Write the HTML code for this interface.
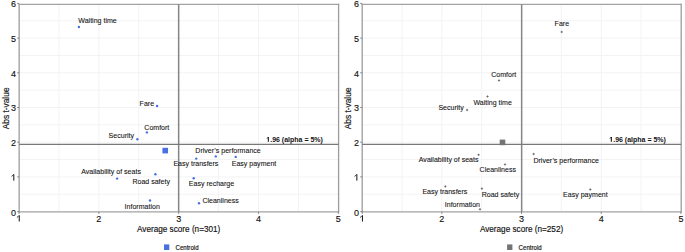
<!DOCTYPE html>
<html><head><meta charset="utf-8"><style>
html,body{margin:0;padding:0;background:#fff;}
body{width:685px;height:252px;overflow:hidden;font-family:"Liberation Sans",sans-serif;}
svg{display:block;}
</style></head><body>
<svg width="685" height="252" viewBox="0 0 685 252" font-family="Liberation Sans, sans-serif">
<rect width="685" height="252" fill="#fff"/>
<line x1="58.91" y1="4.40" x2="58.91" y2="211.90" stroke="#f3f3f3" stroke-width="1"/>
<line x1="98.83" y1="4.40" x2="98.83" y2="211.90" stroke="#f3f3f3" stroke-width="1"/>
<line x1="138.75" y1="4.40" x2="138.75" y2="211.90" stroke="#f3f3f3" stroke-width="1"/>
<line x1="178.66" y1="4.40" x2="178.66" y2="211.90" stroke="#f3f3f3" stroke-width="1"/>
<line x1="218.57" y1="4.40" x2="218.57" y2="211.90" stroke="#f3f3f3" stroke-width="1"/>
<line x1="258.49" y1="4.40" x2="258.49" y2="211.90" stroke="#f3f3f3" stroke-width="1"/>
<line x1="298.40" y1="4.40" x2="298.40" y2="211.90" stroke="#f3f3f3" stroke-width="1"/>
<line x1="19.15" y1="194.25" x2="338.60" y2="194.25" stroke="#f3f3f3" stroke-width="1"/>
<line x1="19.15" y1="176.90" x2="338.60" y2="176.90" stroke="#f3f3f3" stroke-width="1"/>
<line x1="19.15" y1="159.55" x2="338.60" y2="159.55" stroke="#f3f3f3" stroke-width="1"/>
<line x1="19.15" y1="142.20" x2="338.60" y2="142.20" stroke="#f3f3f3" stroke-width="1"/>
<line x1="19.15" y1="124.85" x2="338.60" y2="124.85" stroke="#f3f3f3" stroke-width="1"/>
<line x1="19.15" y1="107.50" x2="338.60" y2="107.50" stroke="#f3f3f3" stroke-width="1"/>
<line x1="19.15" y1="90.15" x2="338.60" y2="90.15" stroke="#f3f3f3" stroke-width="1"/>
<line x1="19.15" y1="72.80" x2="338.60" y2="72.80" stroke="#f3f3f3" stroke-width="1"/>
<line x1="19.15" y1="55.45" x2="338.60" y2="55.45" stroke="#f3f3f3" stroke-width="1"/>
<line x1="19.15" y1="38.10" x2="338.60" y2="38.10" stroke="#f3f3f3" stroke-width="1"/>
<line x1="19.15" y1="20.75" x2="338.60" y2="20.75" stroke="#f3f3f3" stroke-width="1"/>
<line x1="18.55" y1="4.40" x2="339.20" y2="4.40" stroke="#a2a2a2" stroke-width="1.4"/>
<line x1="18.55" y1="211.90" x2="339.20" y2="211.90" stroke="#a2a2a2" stroke-width="1.4"/>
<line x1="19.15" y1="3.80" x2="19.15" y2="212.50" stroke="#9c9c9c" stroke-width="1.3"/>
<line x1="338.60" y1="3.80" x2="338.60" y2="212.50" stroke="#9c9c9c" stroke-width="1.3"/>
<line x1="17.15" y1="211.60" x2="19.15" y2="211.60" stroke="#888" stroke-width="1"/>
<text transform="translate(15.95,215.50) scale(1,1.06)" font-size="9.0" text-anchor="end" fill="#111" stroke="#111" stroke-width="0.12">0</text>
<line x1="17.15" y1="176.90" x2="19.15" y2="176.90" stroke="#888" stroke-width="1"/>
<path d="M13.80 174.35V180.65" stroke="#111" stroke-width="1.0" fill="none"/><path d="M11.50 176.35Q12.80 175.65 13.60 174.45" stroke="#111" stroke-width="0.85" fill="none"/>
<line x1="17.15" y1="142.20" x2="19.15" y2="142.20" stroke="#888" stroke-width="1"/>
<text transform="translate(15.95,146.10) scale(1,1.06)" font-size="9.0" text-anchor="end" fill="#111" stroke="#111" stroke-width="0.12">2</text>
<line x1="17.15" y1="107.50" x2="19.15" y2="107.50" stroke="#888" stroke-width="1"/>
<text transform="translate(15.95,111.40) scale(1,1.06)" font-size="9.0" text-anchor="end" fill="#111" stroke="#111" stroke-width="0.12">3</text>
<line x1="17.15" y1="72.80" x2="19.15" y2="72.80" stroke="#888" stroke-width="1"/>
<text transform="translate(15.95,76.70) scale(1,1.06)" font-size="9.0" text-anchor="end" fill="#111" stroke="#111" stroke-width="0.12">4</text>
<line x1="17.15" y1="38.10" x2="19.15" y2="38.10" stroke="#888" stroke-width="1"/>
<text transform="translate(15.95,42.00) scale(1,1.06)" font-size="9.0" text-anchor="end" fill="#111" stroke="#111" stroke-width="0.12">5</text>
<line x1="17.15" y1="3.40" x2="19.15" y2="3.40" stroke="#888" stroke-width="1"/>
<text transform="translate(15.95,7.30) scale(1,1.06)" font-size="9.0" text-anchor="end" fill="#111" stroke="#111" stroke-width="0.12">6</text>
<line x1="19.00" y1="211.90" x2="19.00" y2="213.90" stroke="#888" stroke-width="1"/>
<path d="M19.25 215.40V221.50" stroke="#111" stroke-width="1.0" fill="none"/><path d="M16.95 217.40Q18.25 216.70 19.05 215.50" stroke="#111" stroke-width="0.85" fill="none"/>
<line x1="98.83" y1="211.90" x2="98.83" y2="213.90" stroke="#888" stroke-width="1"/>
<text transform="translate(98.83,222.00) scale(1,1.06)" font-size="9.0" text-anchor="middle" fill="#111" stroke="#111" stroke-width="0.12">2</text>
<line x1="178.66" y1="211.90" x2="178.66" y2="213.90" stroke="#888" stroke-width="1"/>
<text transform="translate(178.66,222.00) scale(1,1.06)" font-size="9.0" text-anchor="middle" fill="#111" stroke="#111" stroke-width="0.12">3</text>
<line x1="258.49" y1="211.90" x2="258.49" y2="213.90" stroke="#888" stroke-width="1"/>
<text transform="translate(258.49,222.00) scale(1,1.06)" font-size="9.0" text-anchor="middle" fill="#111" stroke="#111" stroke-width="0.12">4</text>
<line x1="338.32" y1="211.90" x2="338.32" y2="213.90" stroke="#888" stroke-width="1"/>
<text transform="translate(338.32,222.00) scale(1,1.06)" font-size="9.0" text-anchor="middle" fill="#111" stroke="#111" stroke-width="0.12">5</text>
<line x1="178.65" y1="4.40" x2="178.65" y2="211.90" stroke="#858585" stroke-width="1.5"/>
<line x1="19.15" y1="144.30" x2="338.60" y2="144.30" stroke="#787878" stroke-width="1.25"/>
<circle cx="78.90" cy="27.00" r="1.2" fill="#4870e4"/>
<circle cx="157.10" cy="106.00" r="1.2" fill="#4870e4"/>
<circle cx="146.90" cy="132.40" r="1.2" fill="#4870e4"/>
<circle cx="137.40" cy="139.30" r="1.2" fill="#4870e4"/>
<circle cx="196.20" cy="158.60" r="1.2" fill="#4870e4"/>
<circle cx="215.80" cy="156.40" r="1.2" fill="#4870e4"/>
<circle cx="235.70" cy="156.90" r="1.2" fill="#4870e4"/>
<circle cx="193.70" cy="178.30" r="1.2" fill="#4870e4"/>
<circle cx="117.10" cy="178.60" r="1.2" fill="#4870e4"/>
<circle cx="155.40" cy="174.20" r="1.2" fill="#4870e4"/>
<circle cx="150.00" cy="200.50" r="1.2" fill="#4870e4"/>
<circle cx="199.00" cy="203.30" r="1.2" fill="#4870e4"/>
<rect x="162.45" y="147.80" width="5.6" height="5.6" fill="#4a70e0"/>
<text transform="translate(78.30,22.90) scale(1,1.12)" font-size="7.05" fill="#111" stroke="#111" stroke-width="0.08">Waiting time</text>
<text transform="translate(139.60,106.00) scale(1,1.12)" font-size="7.05" fill="#111" stroke="#111" stroke-width="0.08">Fare</text>
<text transform="translate(144.30,130.00) scale(1,1.12)" font-size="7.05" fill="#111" stroke="#111" stroke-width="0.08">Comfort</text>
<text transform="translate(108.60,137.90) scale(1,1.12)" font-size="7.05" fill="#111" stroke="#111" stroke-width="0.08">Security</text>
<text transform="translate(195.30,153.10) scale(1,1.12)" font-size="7.05" fill="#111" stroke="#111" stroke-width="0.08">Driver&#8217;s performance</text>
<text transform="translate(173.40,166.00) scale(1,1.12)" font-size="7.05" fill="#111" stroke="#111" stroke-width="0.08">Easy transfers</text>
<text transform="translate(231.70,166.00) scale(1,1.12)" font-size="7.05" fill="#111" stroke="#111" stroke-width="0.08">Easy payment</text>
<text transform="translate(188.80,185.90) scale(1,1.12)" font-size="7.05" fill="#111" stroke="#111" stroke-width="0.08">Easy recharge</text>
<text transform="translate(81.20,173.60) scale(1,1.12)" font-size="7.05" fill="#111" stroke="#111" stroke-width="0.08">Availability of seats</text>
<text transform="translate(132.40,183.70) scale(1,1.12)" font-size="7.05" fill="#111" stroke="#111" stroke-width="0.08">Road safety</text>
<text transform="translate(124.60,209.40) scale(1,1.12)" font-size="7.05" fill="#111" stroke="#111" stroke-width="0.08">Information</text>
<text transform="translate(202.40,203.30) scale(1,1.12)" font-size="7.05" fill="#111" stroke="#111" stroke-width="0.08">Cleanliness</text>
<path d="M268.35 136.95V141.70" stroke="#1a1a1a" stroke-width="1.1" fill="none"/>
<path d="M267.00 138.60Q267.70 138.10 268.20 137.00" stroke="#1a1a1a" stroke-width="0.9" fill="none"/>
<text transform="translate(270.20,141.70) scale(1,1.12)" font-size="7.0" font-weight="bold" fill="#111">.96 (alpha = 5%)</text>
<text transform="translate(178.66,232.00) scale(1,1.12)" font-size="8.2" text-anchor="middle" fill="#111" stroke="#111" stroke-width="0.15">Average score (n=301)</text>
<text transform="translate(8.60,108.40) rotate(-90) scale(1,1.0)" font-size="8.4" text-anchor="middle" fill="#111" stroke="#111" stroke-width="0.15">Abs t-value</text>
<rect x="164.00" y="244.4" width="5.3" height="5.6" fill="#4a70e0"/>
<text transform="translate(175.50,250.30) scale(1,1.12)" font-size="6.1" fill="#111" stroke="#111" stroke-width="0.15">Centroid</text>
<line x1="402.03" y1="4.40" x2="402.03" y2="211.90" stroke="#f3f3f3" stroke-width="1"/>
<line x1="441.87" y1="4.40" x2="441.87" y2="211.90" stroke="#f3f3f3" stroke-width="1"/>
<line x1="481.70" y1="4.40" x2="481.70" y2="211.90" stroke="#f3f3f3" stroke-width="1"/>
<line x1="521.54" y1="4.40" x2="521.54" y2="211.90" stroke="#f3f3f3" stroke-width="1"/>
<line x1="561.38" y1="4.40" x2="561.38" y2="211.90" stroke="#f3f3f3" stroke-width="1"/>
<line x1="601.21" y1="4.40" x2="601.21" y2="211.90" stroke="#f3f3f3" stroke-width="1"/>
<line x1="641.05" y1="4.40" x2="641.05" y2="211.90" stroke="#f3f3f3" stroke-width="1"/>
<line x1="362.20" y1="194.25" x2="681.20" y2="194.25" stroke="#f3f3f3" stroke-width="1"/>
<line x1="362.20" y1="176.90" x2="681.20" y2="176.90" stroke="#f3f3f3" stroke-width="1"/>
<line x1="362.20" y1="159.55" x2="681.20" y2="159.55" stroke="#f3f3f3" stroke-width="1"/>
<line x1="362.20" y1="142.20" x2="681.20" y2="142.20" stroke="#f3f3f3" stroke-width="1"/>
<line x1="362.20" y1="124.85" x2="681.20" y2="124.85" stroke="#f3f3f3" stroke-width="1"/>
<line x1="362.20" y1="107.50" x2="681.20" y2="107.50" stroke="#f3f3f3" stroke-width="1"/>
<line x1="362.20" y1="90.15" x2="681.20" y2="90.15" stroke="#f3f3f3" stroke-width="1"/>
<line x1="362.20" y1="72.80" x2="681.20" y2="72.80" stroke="#f3f3f3" stroke-width="1"/>
<line x1="362.20" y1="55.45" x2="681.20" y2="55.45" stroke="#f3f3f3" stroke-width="1"/>
<line x1="362.20" y1="38.10" x2="681.20" y2="38.10" stroke="#f3f3f3" stroke-width="1"/>
<line x1="362.20" y1="20.75" x2="681.20" y2="20.75" stroke="#f3f3f3" stroke-width="1"/>
<line x1="361.60" y1="4.40" x2="681.80" y2="4.40" stroke="#a2a2a2" stroke-width="1.4"/>
<line x1="361.60" y1="211.90" x2="681.80" y2="211.90" stroke="#a2a2a2" stroke-width="1.4"/>
<line x1="362.20" y1="3.80" x2="362.20" y2="212.50" stroke="#9c9c9c" stroke-width="1.3"/>
<line x1="681.20" y1="3.80" x2="681.20" y2="212.50" stroke="#9c9c9c" stroke-width="1.3"/>
<line x1="360.20" y1="211.60" x2="362.20" y2="211.60" stroke="#888" stroke-width="1"/>
<text transform="translate(359.00,215.50) scale(1,1.06)" font-size="9.0" text-anchor="end" fill="#111" stroke="#111" stroke-width="0.12">0</text>
<line x1="360.20" y1="176.90" x2="362.20" y2="176.90" stroke="#888" stroke-width="1"/>
<path d="M356.85 174.35V180.65" stroke="#111" stroke-width="1.0" fill="none"/><path d="M354.55 176.35Q355.85 175.65 356.65 174.45" stroke="#111" stroke-width="0.85" fill="none"/>
<line x1="360.20" y1="142.20" x2="362.20" y2="142.20" stroke="#888" stroke-width="1"/>
<text transform="translate(359.00,146.10) scale(1,1.06)" font-size="9.0" text-anchor="end" fill="#111" stroke="#111" stroke-width="0.12">2</text>
<line x1="360.20" y1="107.50" x2="362.20" y2="107.50" stroke="#888" stroke-width="1"/>
<text transform="translate(359.00,111.40) scale(1,1.06)" font-size="9.0" text-anchor="end" fill="#111" stroke="#111" stroke-width="0.12">3</text>
<line x1="360.20" y1="72.80" x2="362.20" y2="72.80" stroke="#888" stroke-width="1"/>
<text transform="translate(359.00,76.70) scale(1,1.06)" font-size="9.0" text-anchor="end" fill="#111" stroke="#111" stroke-width="0.12">4</text>
<line x1="360.20" y1="38.10" x2="362.20" y2="38.10" stroke="#888" stroke-width="1"/>
<text transform="translate(359.00,42.00) scale(1,1.06)" font-size="9.0" text-anchor="end" fill="#111" stroke="#111" stroke-width="0.12">5</text>
<line x1="360.20" y1="3.40" x2="362.20" y2="3.40" stroke="#888" stroke-width="1"/>
<text transform="translate(359.00,7.30) scale(1,1.06)" font-size="9.0" text-anchor="end" fill="#111" stroke="#111" stroke-width="0.12">6</text>
<line x1="362.20" y1="211.90" x2="362.20" y2="213.90" stroke="#888" stroke-width="1"/>
<path d="M362.45 215.40V221.50" stroke="#111" stroke-width="1.0" fill="none"/><path d="M360.15 217.40Q361.45 216.70 362.25 215.50" stroke="#111" stroke-width="0.85" fill="none"/>
<line x1="441.87" y1="211.90" x2="441.87" y2="213.90" stroke="#888" stroke-width="1"/>
<text transform="translate(441.87,222.00) scale(1,1.06)" font-size="9.0" text-anchor="middle" fill="#111" stroke="#111" stroke-width="0.12">2</text>
<line x1="521.54" y1="211.90" x2="521.54" y2="213.90" stroke="#888" stroke-width="1"/>
<text transform="translate(521.54,222.00) scale(1,1.06)" font-size="9.0" text-anchor="middle" fill="#111" stroke="#111" stroke-width="0.12">3</text>
<line x1="601.21" y1="211.90" x2="601.21" y2="213.90" stroke="#888" stroke-width="1"/>
<text transform="translate(601.21,222.00) scale(1,1.06)" font-size="9.0" text-anchor="middle" fill="#111" stroke="#111" stroke-width="0.12">4</text>
<line x1="680.88" y1="211.90" x2="680.88" y2="213.90" stroke="#888" stroke-width="1"/>
<text transform="translate(680.88,222.00) scale(1,1.06)" font-size="9.0" text-anchor="middle" fill="#111" stroke="#111" stroke-width="0.12">5</text>
<line x1="521.65" y1="4.40" x2="521.65" y2="211.90" stroke="#858585" stroke-width="1.5"/>
<line x1="362.20" y1="144.30" x2="681.20" y2="144.30" stroke="#787878" stroke-width="1.25"/>
<path d="M560.50 31.90H562.90M561.70 30.70V33.10" stroke="#8a8a8a" stroke-width="0.8" fill="none"/>
<circle cx="561.70" cy="31.90" r="0.75" fill="#666"/>
<path d="M497.80 80.50H500.20M499.00 79.30V81.70" stroke="#8a8a8a" stroke-width="0.8" fill="none"/>
<circle cx="499.00" cy="80.50" r="0.75" fill="#666"/>
<path d="M486.30 96.50H488.70M487.50 95.30V97.70" stroke="#8a8a8a" stroke-width="0.8" fill="none"/>
<circle cx="487.50" cy="96.50" r="0.75" fill="#666"/>
<path d="M465.90 110.00H468.30M467.10 108.80V111.20" stroke="#8a8a8a" stroke-width="0.8" fill="none"/>
<circle cx="467.10" cy="110.00" r="0.75" fill="#666"/>
<path d="M532.40 154.00H534.80M533.60 152.80V155.20" stroke="#8a8a8a" stroke-width="0.8" fill="none"/>
<circle cx="533.60" cy="154.00" r="0.75" fill="#666"/>
<path d="M503.80 164.50H506.20M505.00 163.30V165.70" stroke="#8a8a8a" stroke-width="0.8" fill="none"/>
<circle cx="505.00" cy="164.50" r="0.75" fill="#666"/>
<path d="M477.40 154.80H479.80M478.60 153.60V156.00" stroke="#8a8a8a" stroke-width="0.8" fill="none"/>
<circle cx="478.60" cy="154.80" r="0.75" fill="#666"/>
<path d="M444.20 186.40H446.60M445.40 185.20V187.60" stroke="#8a8a8a" stroke-width="0.8" fill="none"/>
<circle cx="445.40" cy="186.40" r="0.75" fill="#666"/>
<path d="M480.70 188.60H483.10M481.90 187.40V189.80" stroke="#8a8a8a" stroke-width="0.8" fill="none"/>
<circle cx="481.90" cy="188.60" r="0.75" fill="#666"/>
<path d="M478.80 209.30H481.20M480.00 208.10V210.50" stroke="#8a8a8a" stroke-width="0.8" fill="none"/>
<circle cx="480.00" cy="209.30" r="0.75" fill="#666"/>
<path d="M589.10 189.50H591.50M590.30 188.30V190.70" stroke="#8a8a8a" stroke-width="0.8" fill="none"/>
<circle cx="590.30" cy="189.50" r="0.75" fill="#666"/>
<rect x="499.70" y="139.60" width="5.6" height="5.6" fill="#747474"/>
<text transform="translate(554.60,25.90) scale(1,1.12)" font-size="7.05" fill="#111" stroke="#111" stroke-width="0.08">Fare</text>
<text transform="translate(491.20,76.50) scale(1,1.12)" font-size="7.05" fill="#111" stroke="#111" stroke-width="0.08">Comfort</text>
<text transform="translate(473.40,104.60) scale(1,1.12)" font-size="7.05" fill="#111" stroke="#111" stroke-width="0.08">Waiting time</text>
<text transform="translate(438.40,109.80) scale(1,1.12)" font-size="7.05" fill="#111" stroke="#111" stroke-width="0.08">Security</text>
<text transform="translate(533.40,163.00) scale(1,1.12)" font-size="7.05" fill="#111" stroke="#111" stroke-width="0.08">Driver&#8217;s performance</text>
<text transform="translate(479.60,172.30) scale(1,1.12)" font-size="7.05" fill="#111" stroke="#111" stroke-width="0.08">Cleanliness</text>
<text transform="translate(418.80,162.40) scale(1,1.12)" font-size="7.05" fill="#111" stroke="#111" stroke-width="0.08">Availability of seats</text>
<text transform="translate(422.40,194.20) scale(1,1.12)" font-size="7.05" fill="#111" stroke="#111" stroke-width="0.08">Easy transfers</text>
<text transform="translate(481.70,196.90) scale(1,1.12)" font-size="7.05" fill="#111" stroke="#111" stroke-width="0.08">Road safety</text>
<text transform="translate(444.80,207.30) scale(1,1.12)" font-size="7.05" fill="#111" stroke="#111" stroke-width="0.08">Information</text>
<text transform="translate(563.10,196.80) scale(1,1.12)" font-size="7.05" fill="#111" stroke="#111" stroke-width="0.08">Easy payment</text>
<path d="M611.35 136.95V141.70" stroke="#1a1a1a" stroke-width="1.1" fill="none"/>
<path d="M610.00 138.60Q610.70 138.10 611.20 137.00" stroke="#1a1a1a" stroke-width="0.9" fill="none"/>
<text transform="translate(613.20,141.70) scale(1,1.12)" font-size="7.0" font-weight="bold" fill="#111">.96 (alpha = 5%)</text>
<text transform="translate(521.54,232.00) scale(1,1.12)" font-size="8.2" text-anchor="middle" fill="#111" stroke="#111" stroke-width="0.15">Average score (n=252)</text>
<text transform="translate(351.20,108.40) rotate(-90) scale(1,1.0)" font-size="8.4" text-anchor="middle" fill="#111" stroke="#111" stroke-width="0.15">Abs t-value</text>
<rect x="507.10" y="244.4" width="5.3" height="5.6" fill="#747474"/>
<text transform="translate(518.60,250.30) scale(1,1.12)" font-size="6.1" fill="#111" stroke="#111" stroke-width="0.15">Centroid</text>
</svg>
</body></html>
